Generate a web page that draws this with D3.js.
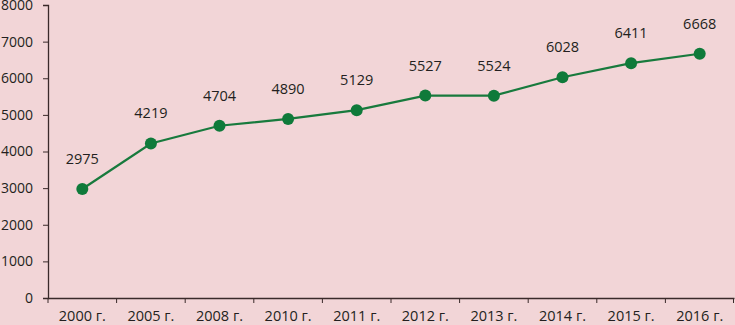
<!DOCTYPE html>
<html>
<head>
<meta charset="utf-8">
<script src="https://cdn.jsdelivr.net/npm/d3@7"></script>
<style>
body { margin: 0; background: #f2d5d7; }
text { font-family: "Open Sans", sans-serif; fill: #231f20; }
</style>
</head>
<body>
<div id="drawing"></div>
<script>
"use strict"

/**** Configuration ****/
let svgWidth = 735
let svgHeight = 325

let leftMargin = 48
let rightMargin = 1
let topMargin = 5
let bottomMargin = 27

/**** DATA ****/
let years = ["2000 г.", "2005 г.", "2008 г.", "2010 г.", "2011 г.", "2012 г.", "2013 г.", "2014 г.", "2015 г.", "2016 г."]
let values = [2975, 4219, 4704, 4890, 5129, 5527, 5524, 6028, 6411, 6668]
let yTicks = [0, 1000, 2000, 3000, 4000, 5000, 6000, 7000, 8000]

let dataset = years.map((y, i) => ({year: y, value: values[i]}))

/**** CANVAS ****/
let svg = d3.select("#drawing")
.append("svg")
.attr("width", svgWidth)
.attr("height", svgHeight)

svg.append("rect")
.attr("width", svgWidth)
.attr("height", svgHeight)
.attr("fill", "#f2d5d7")

/**** SCALES ****/
let xScale = d3.scaleBand()
.domain(years)
.range([leftMargin, svgWidth - rightMargin])

let yScale = d3.scaleLinear()
.domain([0, 8000])
.range([svgHeight - bottomMargin, topMargin])

/**** AXES ****/
let xAxis = svg.append("g")
.attr("transform", `translate(0,${yScale(0)})`)
.call(d3.axisBottom(xScale).tickSize(0).tickPadding(13))

xAxis.select(".domain").attr("stroke", "#3a2a2a").attr("stroke-width", 1.3)
xAxis.selectAll("text").style("font-size", "14.5px")

/* x tick marks at band boundaries */
let boundaries = years.map(y => xScale(y)).concat([xScale.range()[1] - 0.5])
svg.selectAll("line.xtick")
.data(boundaries)
.join("line")
.attr("class", "xtick")
.attr("x1", d => d)
.attr("x2", d => d)
.attr("y1", yScale(0))
.attr("y2", yScale(0) + 5)
.attr("stroke", "#3a2a2a")

let yAxis = svg.append("g")
.attr("transform", `translate(${leftMargin},0)`)
.call(d3.axisLeft(yScale).tickValues(yTicks).tickSize(5).tickPadding(10).tickFormat(d3.format("d")))

yAxis.select(".domain").attr("stroke", "#3a2a2a").attr("stroke-width", 1.3)
yAxis.selectAll("line").attr("stroke", "#3a2a2a")
yAxis.selectAll("text").style("font-size", "14px")

/**** LINE ****/
let line = d3.line()
.x(d => xScale(d.year) + xScale.bandwidth() / 2)
.y(d => yScale(d.value))

svg.append("path")
.datum(dataset)
.attr("d", line)
.attr("fill", "none")
.attr("stroke", "#187a3d")
.attr("stroke-width", 2.2)

svg.selectAll("circle.pt")
.data(dataset)
.join("circle")
.attr("class", "pt")
.attr("cx", d => xScale(d.year) + xScale.bandwidth() / 2)
.attr("cy", d => yScale(d.value))
.attr("r", 6)
.attr("fill", "#0f7a3a")

/**** LABELS ****/
svg.selectAll("text.lbl")
.data(dataset)
.join("text")
.attr("class", "lbl")
.attr("x", d => xScale(d.year) + xScale.bandwidth() / 2)
.attr("y", d => yScale(d.value) - 25)
.style("text-anchor", "middle")
.style("font-size", "14.5px")
.text(d => d.value)
</script>
</body>
</html>
